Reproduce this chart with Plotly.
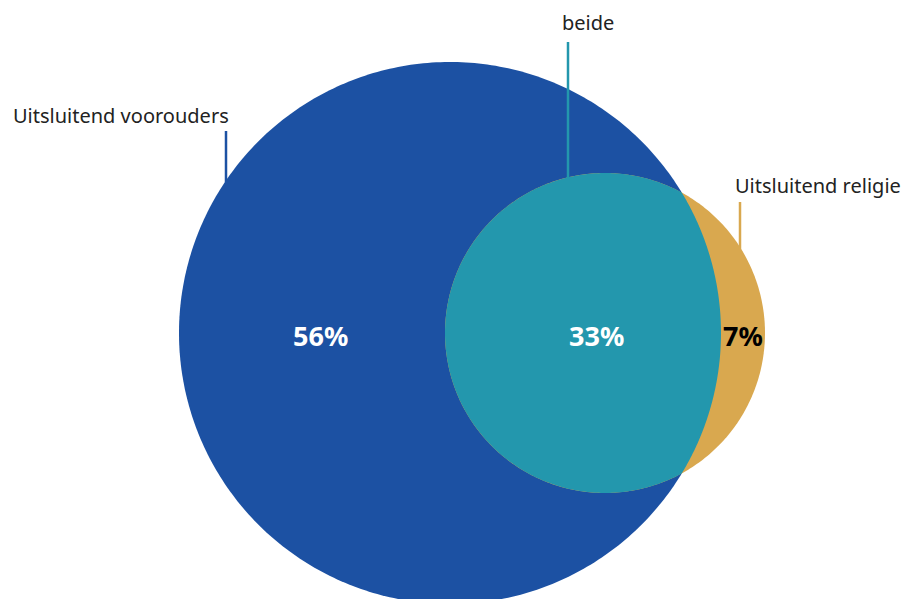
import numpy as np
import plotly.graph_objects as go

# Data
sets = ["Uitsluitend voorouders", "beide", "Uitsluitend religie"]
values = [56, 33, 7]

# Layout geometry (pixel-like data units)
W, H = 904, 599
C1, R1 = (450.0, 333.0), 271.0   # voorouders circle
C2, R2 = (605.0, 333.0), 160.0   # religie circle
BLUE, TEAL, GOLD = "#1C51A3", "#2397AD", "#D9A84F"

def circle(c, r, n=400):
    t = np.linspace(0, 2 * np.pi, n)
    return c[0] + r * np.cos(t), c[1] + r * np.sin(t)

d = C2[0] - C1[0]
a = (R1**2 - R2**2 + d**2) / (2 * d)
h = np.sqrt(R1**2 - a**2)
th = np.arctan2(h, (C1[0] + a) - C2[0])
ph = np.arctan2(h, a)
t1 = np.linspace(th, 2 * np.pi - th, 300)
t2 = np.linspace(-ph, ph, 200)
lx = np.concatenate([C2[0] + R2 * np.cos(t1), C1[0] + R1 * np.cos(t2)])
ly = np.concatenate([C2[1] + R2 * np.sin(t1), C1[1] + R1 * np.sin(t2)])

fig = go.Figure()
x, y = circle(C1, R1)
fig.add_trace(go.Scatter(x=x, y=y, fill="toself", fillcolor=BLUE, mode="none", hoverinfo="skip"))
x, y = circle(C2, R2)
fig.add_trace(go.Scatter(x=x, y=y, fill="toself", fillcolor=GOLD, mode="none", hoverinfo="skip"))
fig.add_trace(go.Scatter(x=lx, y=ly, fill="toself", fillcolor=TEAL, mode="none", hoverinfo="skip"))

# leader lines
for (xx, y0, y1, col) in [(226, 131, 182, BLUE), (568, 42, 178, TEAL), (740, 202, 250, GOLD)]:
    fig.add_trace(go.Scatter(x=[xx, xx], y=[y0, y1], mode="lines",
                             line=dict(color=col, width=2.5), hoverinfo="skip"))

lab_font = dict(family="Noto Sans, Open Sans, sans-serif", size=20, color="#222222")
fig.add_annotation(x=11, y=115, text=sets[0], showarrow=False, xanchor="left", yanchor="middle", font=lab_font)
fig.add_annotation(x=588, y=22, text=sets[1], showarrow=False, xanchor="center", yanchor="middle", font=lab_font)
fig.add_annotation(x=733, y=185, text=sets[2], showarrow=False, xanchor="left", yanchor="middle", font=lab_font)

pct_font = dict(family="Noto Sans, Open Sans, sans-serif", size=27)
pos = [(320, 335, "white"), (596, 335, "white"), (743, 335, "black")]
for v, (px, py, col) in zip(values, pos):
    fig.add_annotation(x=px, y=py, text=f"<b>{v}%</b>", showarrow=False,
                       xanchor="center", yanchor="middle", font=dict(pct_font, color=col))

fig.update_layout(
    width=W, height=H, margin=dict(l=0, r=0, t=0, b=0),
    paper_bgcolor="white", plot_bgcolor="white", showlegend=False,
    xaxis=dict(range=[0, W], visible=False, fixedrange=True),
    yaxis=dict(range=[H, 0], visible=False, fixedrange=True),
)
fig.write_html("out.html", config={"displayModeBar": False},
               post_script="document.body.style.margin='0';document.body.style.overflow='hidden';")
